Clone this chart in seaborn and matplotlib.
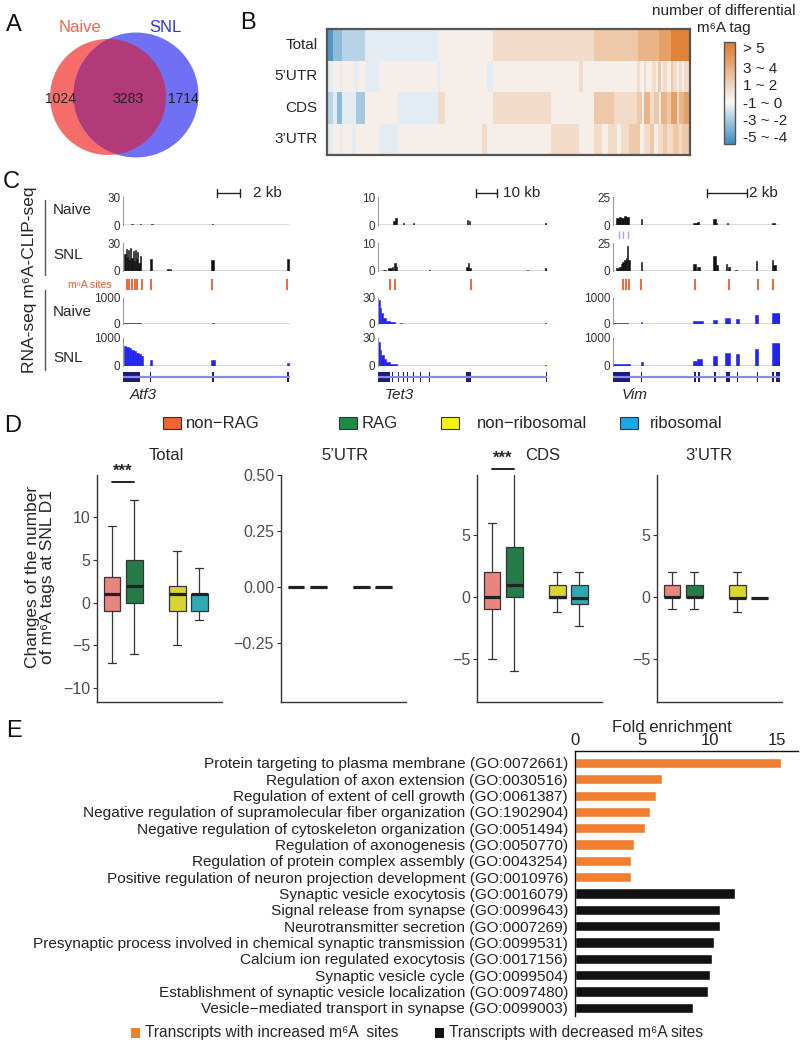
import numpy as np
import pandas as pd
import matplotlib
matplotlib.use("Agg")
import matplotlib.pyplot as plt
import seaborn as sns
from matplotlib.patches import Circle, Rectangle
from matplotlib.lines import Line2D
from matplotlib.colors import LinearSegmentedColormap

# ---------------- DATA ----------------
# Panel A (Venn)
venn_names = ["Naive", "SNL"]
venn_only_naive = 1024
venn_shared = 3283
venn_only_snl = 1714

# Panel B (heatmap): value blocks and their widths (in columns) per row
hm_rows = ["Total", "5\u2019UTR", "CDS", "3\u2019UTR"]
hm_total_vals = [-4.5, -3, -2, -1, 0, 1, 2, 3, 4, 5.5]
hm_total_w = [3, 5, 12, 38, 29, 53, 23, 11, 6, 10]
hm_utr5_vals = [-1, 0, -1, 0, -1, 0, -1, 0, -1, 0, -1, 0, 1, 0, 0,
                1, 0, 1, 0, 1, 0, 2, 0, 1, 0, 2, 1, 0, 1, 0, 1]
hm_utr5_w = [3, 4, 1, 6, 2, 4, 7, 31, 1, 25, 3, 45, 2, 6, 22,
             2, 2, 1, 3, 2, 1, 2, 1, 2, 2, 1, 2, 1, 2, 1, 3]
hm_cds_vals = [-2, -1, -3, -1, -2.5, 0, -1, 1, 0, 1, 0, 2, 1,
               2, 0, 3, 1, 2, 0, 3, 2, 4, 1, 3, 4]
hm_cds_w = [3, 2, 3, 7, 5, 17, 21, 4, 25, 30, 23, 10, 12,
            3, 1, 3, 2, 3, 1, 3, 2, 3, 1, 3, 3]
hm_utr3_vals = [-1, 0, -1, 0, -1, 0, 0, -1, 0, 1, 0, 1, 0, 1, 0, 1, 0, 1, 2,
                2, 0, 1, 2, 0, 1, 2, 1, 2, 1, 2]
hm_utr3_w = [3, 4, 1, 5, 2, 5, 7, 10, 44, 3, 33, 15, 8, 4, 3, 5, 2, 4, 4,
             2, 2, 3, 2, 2, 3, 2, 3, 3, 2, 4]
hm_cbar_labels = ["-5 ~ -4", "-3 ~ -2", "-1 ~ 0", "1 ~ 2", "3 ~ 4", "> 5"]

# Panel C (genome browser tracks): blocks (start, end, height) in relative locus coords
atf3_clip_naive = [(0.05, 0.06, 1), (0.10, 0.11, 1), (0.17, 0.18, 1), (0.53, 0.54, 1)]
atf3_clip_snl = [(0.008, 0.016, 18), (0.016, 0.022, 24), (0.022, 0.030, 15), (0.030, 0.036, 22),
                 (0.036, 0.044, 12), (0.044, 0.050, 25), (0.050, 0.058, 14), (0.058, 0.064, 21),
                 (0.064, 0.072, 11), (0.072, 0.078, 23), (0.078, 0.086, 13), (0.086, 0.092, 20),
                 (0.092, 0.100, 9), (0.100, 0.108, 16), (0.160, 0.172, 13), (0.265, 0.275, 2),
                 (0.280, 0.290, 2), (0.525, 0.545, 12), (0.982, 0.995, 13)]
atf3_sites = [0.022, 0.038, 0.054, 0.070, 0.086, 0.112, 0.166, 0.535, 0.984]
atf3_rna_naive = [(0.005, 0.11, 30), (0.53, 0.545, 25)]
atf3_rna_snl = [(0.005, 0.02, 700), (0.02, 0.035, 680), (0.035, 0.05, 640), (0.05, 0.065, 580),
                (0.065, 0.08, 520), (0.08, 0.095, 470), (0.095, 0.11, 420), (0.11, 0.12, 350),
                (0.16, 0.175, 220), (0.528, 0.548, 230), (0.98, 0.995, 110)]
atf3_exons = [(0.0, 0.10), (0.16, 0.17), (0.53, 0.545), (0.985, 0.995)]

tet3_clip_naive = [(0.09, 0.10, 1.5), (0.10, 0.11, 2.5), (0.15, 0.155, 0.8), (0.21, 0.215, 0.8),
                   (0.525, 0.53, 1.8), (0.54, 0.545, 1.5), (0.99, 1.0, 0.8)]
tet3_clip_snl = [(0.03, 0.05, 0.5), (0.06, 0.08, 1), (0.08, 0.09, 1.5), (0.095, 0.105, 3),
                 (0.105, 0.115, 1.5), (0.30, 0.305, 0.5), (0.52, 0.53, 1.5), (0.53, 0.54, 2.7),
                 (0.54, 0.55, 1.2), (0.88, 0.885, 0.5), (0.99, 1.0, 1)]
tet3_sites = [0.07, 0.10, 0.55]
tet3_rna_naive = [(0.0, 0.012, 28), (0.012, 0.02, 18), (0.02, 0.03, 13), (0.03, 0.045, 7),
                  (0.045, 0.07, 4), (0.07, 0.10, 2), (0.13, 0.14, 1.5), (0.99, 1.0, 1.5)]
tet3_rna_snl = [(0.0, 0.012, 26), (0.012, 0.02, 17), (0.02, 0.035, 12), (0.035, 0.05, 8),
                (0.05, 0.07, 4), (0.07, 0.11, 2), (0.99, 1.0, 1.5)]
tet3_exons = [(0.0, 0.07), (0.08, 0.09), (0.12, 0.125), (0.15, 0.155), (0.17, 0.175),
              (0.21, 0.215), (0.25, 0.255), (0.30, 0.305), (0.52, 0.55), (0.995, 1.0)]

vim_clip_naive = [(0.02, 0.035, 6), (0.035, 0.05, 7), (0.05, 0.065, 6), (0.065, 0.08, 8),
                  (0.08, 0.095, 7), (0.165, 0.175, 5), (0.48, 0.50, 2), (0.50, 0.515, 3),
                  (0.60, 0.615, 5), (0.615, 0.625, 2), (0.68, 0.69, 2), (0.95, 0.97, 2)]
vim_naive_marks = [0.036, 0.06, 0.09]
vim_clip_snl = [(0.02, 0.035, 3), (0.035, 0.045, 4), (0.045, 0.055, 6), (0.055, 0.065, 8),
                (0.065, 0.075, 10), (0.075, 0.085, 12), (0.085, 0.092, 22), (0.092, 0.10, 10),
                (0.165, 0.175, 8), (0.48, 0.495, 6), (0.50, 0.52, 4), (0.60, 0.615, 13),
                (0.615, 0.63, 5), (0.675, 0.685, 6), (0.69, 0.70, 4), (0.73, 0.74, 1),
                (0.855, 0.865, 9), (0.95, 0.96, 10), (0.96, 0.975, 5)]
vim_sites = [0.06, 0.078, 0.096, 0.168, 0.491, 0.695, 0.868, 0.958]
vim_rna_naive = [(0.0, 0.09, 20), (0.165, 0.175, 60), (0.48, 0.54, 110), (0.60, 0.62, 146),
                 (0.67, 0.70, 220), (0.735, 0.755, 207), (0.85, 0.87, 341), (0.95, 1.0, 427)]
vim_rna_snl = [(0.0, 0.10, 60), (0.165, 0.178, 130), (0.48, 0.50, 170), (0.50, 0.53, 240),
               (0.60, 0.62, 360), (0.67, 0.70, 480), (0.735, 0.755, 420), (0.85, 0.87, 600),
               (0.95, 1.0, 820)]
vim_exons = [(0.0, 0.10), (0.165, 0.172), (0.485, 0.495), (0.51, 0.52), (0.605, 0.615),
             (0.675, 0.70), (0.74, 0.748), (0.86, 0.866), (0.95, 0.965), (0.975, 1.0)]

gene_names = ["Atf3", "Tet3", "Vim"]
clip_max = [30, 10, 25]
rna_max = [1000, 30, 1000]
scale_labels = ["2 kb", "10 kb", "2 kb"]

# Panel D (box plots: min, q1, median, q3, max)
d_cats = ["non\u2212RAG", "RAG", "non\u2212ribosomal", "ribosomal"]
d_panels = ["Total", "5\u2019UTR", "CDS", "3\u2019UTR"]
d_total = [[-7, -1, 1, 3, 9], [-6, 0, 2, 5, 12], [-5, -1, 1, 2, 6], [-2, -1, 1, 1, 4]]
d_utr5 = [[0, 0, 0, 0, 0], [0, 0, 0, 0, 0], [0, 0, 0, 0, 0], [0, 0, 0, 0, 0]]
d_cds = [[-5, -1, 0, 2, 6], [-6, 0, 1, 4, 10], [-1.2, -0.1, 0, 1, 2], [-2.3, -0.6, -0.1, 1, 2]]
d_utr3 = [[-1, 0, 0, 1, 2], [-1, 0, 0, 1, 2], [-1.2, -0.1, -0.1, 1, 2], [-0.1, -0.1, -0.1, -0.1, -0.1]]

# Panel E (GO enrichment)
go_terms = ["Protein targeting to plasma membrane", "Regulation of axon extension",
            "Regulation of extent of cell growth",
            "Negative regulation of supramolecular fiber organization",
            "Negative regulation of cytoskeleton organization", "Regulation of axonogenesis",
            "Regulation of protein complex assembly",
            "Positive regulation of neuron projection development",
            "Synaptic vesicle exocytosis", "Signal release from synapse",
            "Neurotransmitter secretion",
            "Presynaptic process involved in chemical synaptic transmission",
            "Calcium ion regulated exocytosis", "Synaptic vesicle cycle",
            "Establishment of synaptic vesicle localization",
            "Vesicle\u2212mediated transport in synapse"]
go_ids = ["GO:0072661", "GO:0030516", "GO:0061387", "GO:1902904", "GO:0051494", "GO:0050770",
          "GO:0043254", "GO:0010976", "GO:0016079", "GO:0099643", "GO:0007269", "GO:0099531",
          "GO:0017156", "GO:0099504", "GO:0097480", "GO:0099003"]
go_fold = [15.3, 6.5, 6.0, 5.55, 5.2, 4.4, 4.2, 4.15, 11.9, 10.8, 10.8, 10.3, 10.2, 10.0, 9.9, 8.8]
go_group = ["increased"] * 8 + ["decreased"] * 8
e_legend = ["Transcripts with increased m\u2076A  sites", "Transcripts with decreased m\u2076A sites"]

# ---------------- STYLE ----------------
sns.set_theme(style="white")
REG = ["Liberation Sans", "DejaVu Sans"]
plt.rcParams["font.family"] = REG
plt.rcParams["axes.unicode_minus"] = True

W, H = 800, 1043
fig = plt.figure(figsize=(8, 10.43), dpi=100)
fig.patch.set_facecolor("white")


def ax_px(l, t, w, h):
    return fig.add_axes([l / W, 1 - (t + h) / H, w / W, h / H])


def txt(x, y, s, **kw):
    return fig.text(x / W, 1 - y / H, s, **kw)


def line_px(xs, ys, **kw):
    fig.add_artist(Line2D([x / W for x in xs], [1 - y / H for y in ys],
                          transform=fig.transFigure, **kw))


for lab, (x, y) in zip("ABCDE", [(6, 25), (240, 23), (3, 182), (4, 426), (6, 731)]):
    txt(x, y, lab, fontsize=17, ha="left", va="center", color="#111")

# ---------------- PANEL A ----------------
axA = ax_px(30, 20, 185, 145)
axA.set_xlim(30, 215)
axA.set_ylim(165, 20)
axA.axis("off")
n_naive = venn_only_naive + venn_shared
n_snl = venn_only_snl + venn_shared
k = 58 / np.sqrt(n_naive)
r1, r2 = k * np.sqrt(n_naive), k * np.sqrt(n_snl)
c1 = (108, 97)
c2 = (136, 95)
red = Circle(c1, r1, fc="#f66c6a", ec="none")
blue = Circle(c2, r2, fc="#7070f5", ec="none")
axA.add_patch(red)
axA.add_patch(blue)
ov = Circle(c1, r1, fc="#b23a78", ec="none")
axA.add_patch(ov)
ov.set_clip_path(blue)
for x, v in zip([60, 128, 183], [venn_only_naive, venn_shared, venn_only_snl]):
    axA.text(x, 99, str(v), ha="center", va="center", fontsize=10, color="#222")
axA.text(80, 27, venn_names[0], ha="center", va="center", fontsize=12, color="#f2674f")
axA.text(165, 27, venn_names[1], ha="center", va="center", fontsize=12, color="#2e2ef0")

# ---------------- PANEL B ----------------
rows = [np.repeat(hm_total_vals, hm_total_w), np.repeat(hm_utr5_vals, hm_utr5_w),
        np.repeat(hm_cds_vals, hm_cds_w), np.repeat(hm_utr3_vals, hm_utr3_w)]
hm = pd.DataFrame(np.vstack(rows), index=hm_rows)
cmap = LinearSegmentedColormap.from_list(
    "bo", [(0.0, "#3b8cbf"), (4.5 / 11, "#f8f8f8"), (1.0, "#dc7a29")])
axB = ax_px(327, 29, 363, 126)
caxB = ax_px(724, 42, 11, 102)
sns.heatmap(hm, ax=axB, cmap=cmap, vmin=-5, vmax=6, cbar_ax=caxB,
            xticklabels=False, yticklabels=True, linewidths=0, rasterized=True)
axB.tick_params(axis="y", length=0, pad=7, labelsize=11, rotation=0)
for sp in axB.spines.values():
    sp.set_visible(True)
    sp.set_color("#555")
    sp.set_linewidth(1.6)
cb = axB.collections[0].colorbar
fr = [0.07, 0.24, 0.41, 0.58, 0.75, 0.95]
cb.set_ticks([-5 + f * 11 for f in fr], labels=hm_cbar_labels)
cb.ax.tick_params(length=0, labelsize=11, pad=6)
cb.outline.set_edgecolor("#555")
cb.outline.set_linewidth(1.0)
txt(724, 11, "number of differential", ha="center", va="center", fontsize=11)
txt(724, 28, "m\u2076A tag", ha="center", va="center", fontsize=11)

# ---------------- PANEL C ----------------
gene_x = [(123, 167), (378, 169), (613, 167)]
clip_naive = [atf3_clip_naive, tet3_clip_naive, vim_clip_naive]
clip_snl = [atf3_clip_snl, tet3_clip_snl, vim_clip_snl]
sites = [atf3_sites, tet3_sites, vim_sites]
rna_naive = [atf3_rna_naive, tet3_rna_naive, vim_rna_naive]
rna_snl = [atf3_rna_snl, tet3_rna_snl, vim_rna_snl]
exons = [atf3_exons, tet3_exons, vim_exons]
BLUE = "#2323f2"


def track(ax, blocks, ymax, color, base):
    ax.bar([b[0] for b in blocks], [b[2] for b in blocks],
           width=[b[1] - b[0] for b in blocks], align="edge", color=color,
           edgecolor=color, linewidth=0.4)
    ax.axhline(0, color=base, lw=1.0)
    ax.set_xlim(0, 1)
    ax.set_ylim(0, ymax)
    for s in ["top", "right", "bottom"]:
        ax.spines[s].set_visible(False)
    ax.spines["left"].set_color("#9a9a9a")
    ax.spines["left"].set_linewidth(0.8)
    ax.set_xticks([])
    ax.set_yticks([0, ymax])
    ax.set_yticklabels(["0", str(ymax)])
    ax.tick_params(axis="y", length=0, pad=2, labelsize=8.5, labelcolor="#333")
    ax.patch.set_alpha(0)


for g in range(3):
    gx, gw = gene_x[g]
    a1 = ax_px(gx, 197, gw, 28)
    track(a1, clip_naive[g], clip_max[g], "#111", "#444")
    a2 = ax_px(gx, 243, gw, 28)
    track(a2, clip_snl[g], clip_max[g], "#111", "#333")
    a3 = ax_px(gx, 279, gw, 11)
    a3.vlines(sites[g], 0, 1, color="#f2582b", lw=1.3)
    a3.set_xlim(0, 1)
    a3.set_ylim(0, 1)
    a3.axis("off")
    a4 = ax_px(gx, 298, gw, 26)
    track(a4, rna_naive[g], rna_max[g], BLUE, BLUE)
    a5 = ax_px(gx, 338, gw, 28)
    track(a5, rna_snl[g], rna_max[g], BLUE, BLUE)
    a6 = ax_px(gx, 372, gw, 10)
    a6.axhline(0.5, color="#8b8be6", lw=1.6)
    a6.bar([e[0] for e in exons[g]], [1.0] * len(exons[g]),
           width=[e[1] - e[0] for e in exons[g]], align="edge", color="#1b1b7d", linewidth=0)
    a6.set_xlim(0, 1)
    a6.set_ylim(0, 1)
    a6.axis("off")
    if g == 2:
        a7 = ax_px(gx, 231, gw, 8)
        a7.vlines(vim_naive_marks, 0, 1, color="#a9a9e6", lw=1.0)
        a7.set_xlim(0, 1)
        a7.set_ylim(0, 1)
        a7.axis("off")

for (x, y), name in zip([(143, 395), (399, 395), (635, 395)], gene_names):
    txt(x, y, name, ha="center", va="center", fontsize=11, style="italic")

for (x0, x1, tx), lab in zip([(217, 240, 253), (476, 497, 503), (707, 747, 749)], scale_labels):
    line_px([x0, x1], [193, 193], color="#222", lw=1.0)
    line_px([x0, x0], [189, 197], color="#222", lw=1.0)
    line_px([x1, x1], [189, 197], color="#222", lw=1.0)
    txt(tx, 193, lab, ha="left", va="center", fontsize=11)

for y, lab in zip([210, 255, 312, 358], ["Naive", "SNL", "Naive", "SNL"]):
    txt(53, y, lab, ha="left", va="center", fontsize=11)
txt(112, 285, "m\u2076A sites", ha="right", va="center", fontsize=7.5, color="#f2582b")
line_px([45, 45], [200, 275], color="#555", lw=1.0)
line_px([45, 45], [290, 370], color="#555", lw=1.0)
txt(30, 280, "RNA-seq m\u2076A-CLIP-seq", rotation=90, ha="center", va="center", fontsize=12.5)

# ---------------- PANEL D ----------------
box_colors = ["#f8766d", "#178a47", "#f3ee1a", "#19bdc8"]
leg_colors = ["#f26430", "#1e8c46", "#f5f219", "#1ba6e5"]
positions = [0.83, 1.17, 1.83, 2.17]
d_data = [d_total, d_utr5, d_cds, d_utr3]
d_left = [97, 281, 477, 657]
d_ylims = [(-11.6, 14.9), (-0.513, 0.502), (-8.47, 9.84), (-8.47, 9.84)]
d_ticks = [[-10, -5, 0, 5, 10], [-0.25, 0.0, 0.25, 0.50], [-5, 0, 5], [-5, 0, 5]]
d_titles_x = [166, 345, 543, 709]

for i in range(4):
    ax = ax_px(d_left[i], 475, 125, 227)
    recs = []
    for c, p, vals in zip(d_cats, positions, d_data[i]):
        for v in vals:
            recs.append({"pos": p, "cat": c, "val": v})
    df = pd.DataFrame(recs)
    sns.boxplot(data=df, x="pos", y="val", hue="cat", hue_order=d_cats, palette=box_colors,
                native_scale=True, dodge=False, width=0.765, whis=(0, 100), fliersize=0,
                linecolor="#333", linewidth=0.9, legend=False, ax=ax,
                medianprops=dict(linewidth=2.3, color="#222"))
    ax.set_xlim(0.6, 2.52)
    ax.set_ylim(*d_ylims[i])
    ax.set_yticks(d_ticks[i])
    if i == 1:
        ax.set_yticklabels(["\u22120.25", "0.00", "0.25", "0.50"])
    ax.set_xticks([])
    ax.set_xlabel("")
    ax.set_ylabel("")
    for s in ["top", "right"]:
        ax.spines[s].set_visible(False)
    for s in ["left", "bottom"]:
        ax.spines[s].set_color("#333")
        ax.spines[s].set_linewidth(1.0)
    ax.tick_params(axis="y", length=3, width=0.8, color="#333", labelsize=11.5,
                   labelcolor="#4d4d4d", pad=2, left=True)
    txt(d_titles_x[i], 456, d_panels[i], ha="center", va="center", fontsize=12)
    if i in (0, 2):
        ly = 14.1 if i == 0 else 10.3
        ty = 14.5 if i == 0 else 10.6
        ax.plot([positions[0], positions[1]], [ly, ly], color="#111", lw=1.3, clip_on=False)
        ax.text(np.mean(positions[:2]), ty, "***", ha="center", va="bottom", fontsize=12,
                fontweight="bold", clip_on=False)

txt(40, 577, "Changes of the number\nof m\u2076A tags at SNL D1", rotation=90,
    ha="center", va="center", fontsize=12.5, multialignment="center", linespacing=1.0)

for (px_, tx_), c, lab in zip([(163, 186), (339, 362), (441, 477), (620, 650)], leg_colors, d_cats):
    fig.add_artist(Rectangle((px_ / W, 1 - 429 / H), 18 / W, 12 / H, transform=fig.transFigure,
                             fc=c, ec="#333", lw=0.8))
    txt(tx_, 423, lab, ha="left", va="center", fontsize=12)

# ---------------- PANEL E ----------------
axE = ax_px(575, 751, 223, 265)
dfE = pd.DataFrame({"label": [f"{t} ({g})" for t, g in zip(go_terms, go_ids)],
                    "fold": go_fold, "group": go_group})
sns.barplot(data=dfE, x="fold", y="label", hue="group", orient="h", dodge=False, width=0.62,
            palette={"increased": "#f07f32", "decreased": "#121212"}, legend=False, ax=axE,
            saturation=1)
axE.set_xlim(0, 223 / 13.45)
axE.set_ylim(15.5, -0.73)
axE.xaxis.tick_top()
axE.set_xticks([0, 5, 10, 15])
axE.set_xlabel("")
axE.set_ylabel("")
axE.tick_params(axis="x", length=0, pad=2, labelsize=12, top=True, bottom=False)
axE.tick_params(axis="y", length=0, pad=5, labelsize=11.1)
for lab in axE.get_yticklabels() + axE.get_xticklabels():
    lab.set_color("#222")
for s in ["bottom", "right"]:
    axE.spines[s].set_visible(False)
for s in ["top", "left"]:
    axE.spines[s].set_color("#111")
    axE.spines[s].set_linewidth(1.0)
txt(672, 727, "Fold enrichment", ha="center", va="center", fontsize=12)

for (sx, tx_), c, lab in zip([(131, 145), (435, 449)], ["#f07f32", "#121212"], e_legend):
    fig.add_artist(Rectangle((sx / W, 1 - 1038 / H), 9 / W, 10 / H, transform=fig.transFigure,
                             fc=c, ec="none"))
    txt(tx_, 1033, lab, ha="left", va="center", fontsize=11.2)

fig.savefig("out.png", dpi=100, facecolor="white")
